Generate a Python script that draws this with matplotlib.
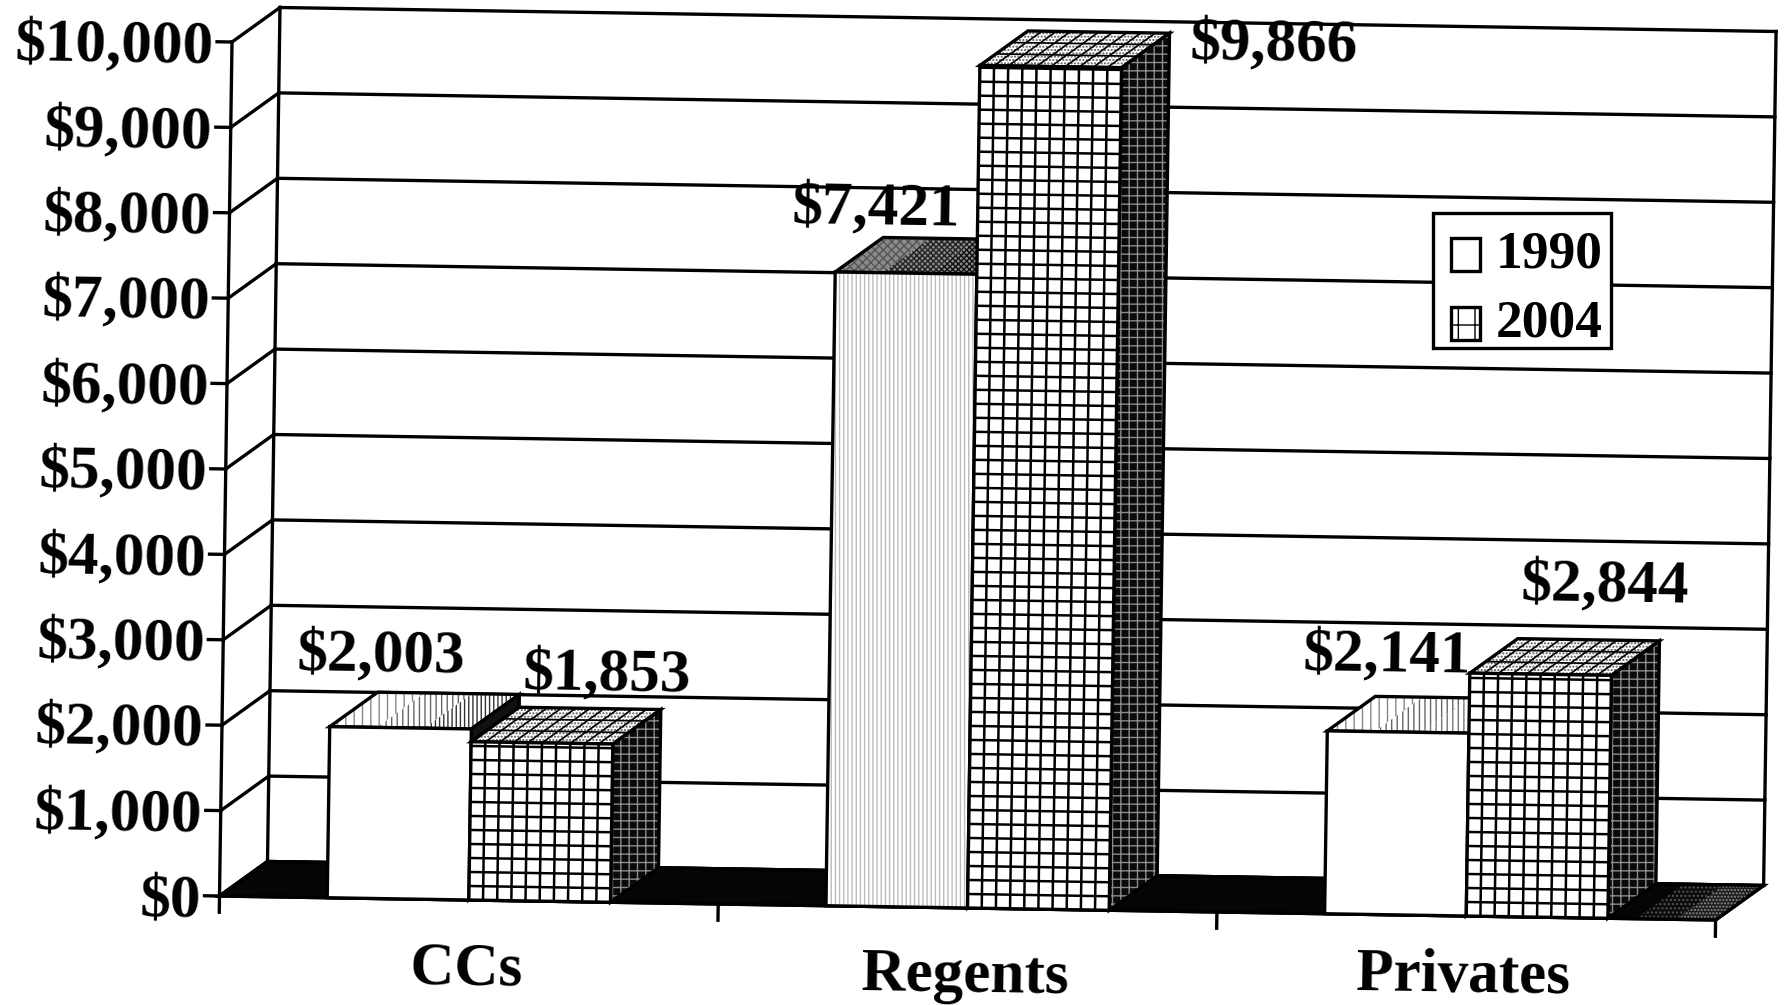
import numpy as np
import matplotlib
matplotlib.use('Agg')
import matplotlib.pyplot as plt
from matplotlib.patches import Polygon, Patch, Rectangle
from matplotlib.legend_handler import HandlerPatch
from matplotlib.transforms import Affine2D

categories = ['CCs', 'Regents', 'Privates']
years = ['1990', '2004']
values_1990 = [2003, 7421, 2141]
values_2004 = [1853, 9866, 2844]
y_ticks = [0, 1000, 2000, 3000, 4000, 5000, 6000, 7000, 8000, 9000, 10000]

plt.rcParams['font.family'] = ['Liberation Serif', 'DejaVu Serif']
plt.rcParams['font.weight'] = 'bold'
plt.rcParams['hatch.linewidth'] = 1.0

fig = plt.figure(figsize=(17.88, 10.05), dpi=100)
ax = fig.add_axes([0, 0, 1, 1])
ax.set_xlim(0, 1788)
ax.set_ylim(1005, 0)
ax.axis('off')

# the scanned page is a bit rotated, so (category, value) goes through a skewed matrix
mat = np.array([[498.7, 0.00125, 219.5], [8.0, -0.0854, 896.0], [0, 0, 1]])
chart = Affine2D(mat) + ax.transData
depth = np.linalg.solve(mat[:2, :2], [48, -34.5])
TILT = -0.9
LW = 2.4
FS = 44


def line(xs, vs, d=0, **kw):
    xs = np.array(xs, dtype=float) + d * depth[0]
    vs = np.array(vs, dtype=float) + d * depth[1]
    kw.setdefault('color', 'black')
    kw.setdefault('lw', LW)
    ax.plot(xs, vs, transform=chart, solid_capstyle='projecting', **kw)


def face(pts, fc='white', hatch=None, hatch_col='black', z=3, outline=True):
    pts = np.array(pts, dtype=float)
    xy = np.column_stack([pts[:, 0] + pts[:, 2] * depth[0], pts[:, 1] + pts[:, 2] * depth[1]])
    if hatch:
        ax.add_patch(Polygon(xy, closed=True, fc=fc, ec=hatch_col, hatch=hatch, lw=0, transform=chart, zorder=z))
    else:
        ax.add_patch(Polygon(xy, closed=True, fc=fc, ec='none', lw=0, transform=chart, zorder=z))
    if outline:
        ax.add_patch(Polygon(xy, closed=True, fc='none', ec='black', lw=LW, transform=chart, zorder=z))


def top_strips(x0, x1, v, fc, hatches, z=3):
    # top of a 1990 bar gets darker to the right in the scan
    n = len(hatches)
    for k, (h, hc) in enumerate(hatches):
        xa = x0 + (x1 - x0) * k / n
        xb = x0 + (x1 - x0) * (k + 1) / n
        face([(xa, v, 0), (xb, v, 0), (xb, v, 1), (xa, v, 1)], fc=fc, hatch=h, hatch_col=hc, z=z, outline=False)
    face([(x0, v, 0), (x1, v, 0), (x1, v, 1), (x0, v, 1)], fc='none', z=z)


# walls
for v in y_ticks:
    line([0, 3], [v, v], d=1, zorder=1)
    ax.plot([0, depth[0]], [v, v + depth[1]], transform=chart, color='black', lw=LW, zorder=1)
    ax.plot([0, -0.03], [v, v], transform=chart, color='black', lw=LW, zorder=1)
line([0, 0], [0, 10000], zorder=1)
line([0, 0], [0, 10000], d=1, zorder=1)
line([3, 3], [0, 10000], d=1, zorder=1)

# floor, goes from black to speckled grey at the far right
face([(0, 0, 0), (3, 0, 0), (3, 0, 1), (0, 0, 1)], fc='#050505', z=2)
face([(2.84, 0, 0), (2.92, 0, 0), (2.92, 0, 1), (2.84, 0, 1)], fc='#0c0c0c', hatch='....', hatch_col='#555555', z=2, outline=False)
face([(2.92, 0, 0), (3, 0, 0), (3, 0, 1), (2.92, 0, 1)], fc='#1c1c1c', hatch='.....', hatch_col='#8c8c8c', z=2, outline=False)
face([(0, 0, 0), (3, 0, 0), (3, 0, 1), (0, 0, 1)], fc='none', z=2)
for c in range(4):
    ax.plot([c, c], [0, -190], transform=chart, color='black', lw=LW, zorder=1)

# bars
gap = 0.216
bar_w = 0.284
front_1990 = [(None, None), ('||||', '#bbbbbb'), (None, None)]
top_1990 = [
    [('||', '#888888'), ('|||', '#666666'), ('||||', '#333333')],
    [('xxxx', '#555555'), ('xxxxxx', '#222222'), ('xxxxxx', '#111111')],
    [('||', '#888888'), ('|||', '#666666'), ('|||', '#777777')],
]

for i in range(3):
    x0 = i + gap
    x1 = x0 + bar_w
    x2 = x1 + bar_w
    v = values_1990[i]
    fc_top = '#8a8a8a' if i == 1 else 'white'
    top_strips(x0, x1, v, fc_top, top_1990[i], z=3)
    face([(x1, 0, 0), (x1, v, 0), (x1, v, 1), (x1, 0, 1)], fc='#111111', z=3)
    h, hc = front_1990[i]
    face([(x0, 0, 0), (x1, 0, 0), (x1, v, 0), (x0, v, 0)], fc='white', hatch=h, hatch_col=hc, z=3)

    v = values_2004[i]
    face([(x1, v, 0), (x2, v, 0), (x2, v, 1), (x1, v, 1)], fc='white', hatch='.....', hatch_col='#555555', z=4)
    face([(x2, 0, 0), (x2, v, 0), (x2, v, 1), (x2, 0, 1)], fc='#0a0a0a', hatch='++', hatch_col='#8c8c8c', z=4)
    face([(x1, 0, 0), (x2, 0, 0), (x2, v, 0), (x1, v, 0)], fc='white', z=4)
    for k in range(1, 10):
        xk = x1 + k * bar_w / 10
        line([xk, xk], [0, v], lw=1.8, zorder=5)
        ax.plot([xk, xk + depth[0]], [v, v + depth[1]], transform=chart, color='black', lw=1.2, zorder=5)
    for vk in np.arange(164, v, 164):
        line([x1, x2], [vk, vk], lw=1.8, zorder=5)
    for d in (1 / 3, 2 / 3):
        line([x1, x2], [v, v], d=d, lw=1.2, zorder=5)

# tick labels
for v in y_ticks:
    ax.annotate('${:,}'.format(v), (-0.036, v), xycoords=chart, ha='right', va='center_baseline',
                fontsize=FS, rotation=TILT, rotation_mode='anchor', zorder=7)
cat_off = [(-2, -45), (-2, -45), (-2, -39)]
for i, name in enumerate(categories):
    ax.annotate(name, (i + 0.5, 0), xycoords=chart, xytext=cat_off[i], textcoords='offset points',
                ha='center', va='center_baseline', fontsize=FS, rotation=TILT, rotation_mode='anchor', zorder=7)

# value labels sit by hand, offsets in points from the top of each bar
off_1990 = [(-14, 56), (-21, 50), (-8, 59)]
off_2004 = [(47, 53), (161, 20), (47, 68)]
for i in range(3):
    x0 = i + gap
    ax.annotate('${:,}'.format(values_1990[i]), (x0 + bar_w / 2, values_1990[i]), xycoords=chart,
                xytext=off_1990[i], textcoords='offset points', ha='center', va='center_baseline',
                fontsize=FS, rotation=TILT, rotation_mode='anchor', zorder=7)
    ax.annotate('${:,}'.format(values_2004[i]), (x0 + 1.5 * bar_w, values_2004[i]), xycoords=chart,
                xytext=off_2004[i], textcoords='offset points', ha='center', va='center_baseline',
                fontsize=FS, rotation=TILT, rotation_mode='anchor', zorder=7)


def swatch(legend, orig_handle, xdescent, ydescent, width, height, fontsize):
    # square sits a little away from the legend's left edge and lower in its row
    return Rectangle((xdescent + 7, ydescent - 7), width - 7, height)


handles = [Patch(fc='white', ec='black', lw=LW), Patch(fc='white', ec='black', lw=LW, hatch='+')]
leg = ax.legend(handles, years, loc='upper left', bbox_to_anchor=(1433, 213), bbox_transform=ax.transData,
                fontsize=38.5, fancybox=False, framealpha=1, edgecolor='black', borderaxespad=0,
                handlelength=0.71, handleheight=0.57, handletextpad=0.3, labelspacing=0.4, borderpad=0.16,
                handler_map={Patch: HandlerPatch(patch_func=swatch)})
for t in leg.get_texts():
    t.set_y(-9)
leg.get_frame().set_linewidth(LW)
leg.set_zorder(8)

fig.savefig('out.png', dpi=100)
